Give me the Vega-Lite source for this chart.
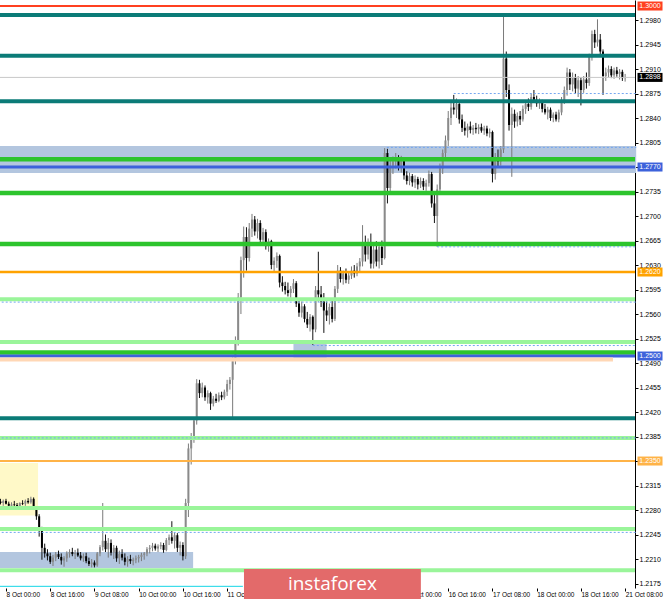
{
  "$schema": "https://vega.github.io/schema/vega-lite/v6.json",
  "width": 635,
  "height": 588,
  "autosize": {"type": "none"},
  "padding": {"left": 0, "top": 0, "right": 30, "bottom": 11},
  "background": "white",
  "config": {"view": {"stroke": null}, "scale": {"continuousPadding": 0}, "axis": {"labelOverlap": false}},
  "datasets": {
    "candles": [
      {"i":-2,"o":1.2292,"h":1.2296,"l":1.2288,"c":1.2290},
      {"i":-1,"o":1.2290,"h":1.2295,"l":1.2286,"c":1.2293},
      {"i":0,"o":1.2293,"h":1.2296,"l":1.2288,"c":1.2289},
      {"i":1,"o":1.2289,"h":1.2292,"l":1.2284,"c":1.2286},
      {"i":2,"o":1.2286,"h":1.2291,"l":1.2283,"c":1.2288},
      {"i":3,"o":1.2288,"h":1.2293,"l":1.2285,"c":1.2287},
      {"i":4,"o":1.2287,"h":1.2290,"l":1.2282,"c":1.2285},
      {"i":5,"o":1.2285,"h":1.2291,"l":1.2283,"c":1.2290},
      {"i":6,"o":1.2290,"h":1.2294,"l":1.2287,"c":1.2289},
      {"i":7,"o":1.2289,"h":1.2295,"l":1.2286,"c":1.2293},
      {"i":8,"o":1.2293,"h":1.2297,"l":1.2289,"c":1.2291},
      {"i":9,"o":1.2291,"h":1.2299,"l":1.2289,"c":1.2296},
      {"i":10,"o":1.2296,"h":1.2298,"l":1.2280,"c":1.2282},
      {"i":11,"o":1.2282,"h":1.2285,"l":1.2266,"c":1.2271},
      {"i":12,"o":1.2271,"h":1.2274,"l":1.2242,"c":1.2250},
      {"i":13,"o":1.2250,"h":1.2256,"l":1.2209,"c":1.2226},
      {"i":14,"o":1.2226,"h":1.2232,"l":1.2212,"c":1.2218},
      {"i":15,"o":1.2218,"h":1.2224,"l":1.2208,"c":1.2214},
      {"i":16,"o":1.2214,"h":1.2219,"l":1.2203,"c":1.2206},
      {"i":17,"o":1.2206,"h":1.2216,"l":1.2200,"c":1.2212},
      {"i":18,"o":1.2212,"h":1.2220,"l":1.2207,"c":1.2217},
      {"i":19,"o":1.2217,"h":1.2222,"l":1.2210,"c":1.2213},
      {"i":20,"o":1.2213,"h":1.2218,"l":1.2202,"c":1.2208},
      {"i":21,"o":1.2208,"h":1.2214,"l":1.2199,"c":1.2211},
      {"i":22,"o":1.2211,"h":1.2221,"l":1.2206,"c":1.2218},
      {"i":23,"o":1.2218,"h":1.2224,"l":1.2212,"c":1.2220},
      {"i":24,"o":1.2220,"h":1.2226,"l":1.2214,"c":1.2217},
      {"i":25,"o":1.2217,"h":1.2223,"l":1.2210,"c":1.2219},
      {"i":26,"o":1.2219,"h":1.2225,"l":1.2213,"c":1.2215},
      {"i":27,"o":1.2215,"h":1.2220,"l":1.2208,"c":1.2211},
      {"i":28,"o":1.2211,"h":1.2218,"l":1.2206,"c":1.2214},
      {"i":29,"o":1.2214,"h":1.2219,"l":1.2204,"c":1.2207},
      {"i":30,"o":1.2207,"h":1.2212,"l":1.2200,"c":1.2203},
      {"i":31,"o":1.2203,"h":1.2210,"l":1.2198,"c":1.2205},
      {"i":32,"o":1.2205,"h":1.2208,"l":1.2198,"c":1.2201},
      {"i":33,"o":1.2201,"h":1.2220,"l":1.2199,"c":1.2218},
      {"i":34,"o":1.2218,"h":1.2230,"l":1.2214,"c":1.2227},
      {"i":35,"o":1.2227,"h":1.2290,"l":1.2222,"c":1.2236},
      {"i":36,"o":1.2236,"h":1.2245,"l":1.2220,"c":1.2224},
      {"i":37,"o":1.2224,"h":1.2240,"l":1.2212,"c":1.2233},
      {"i":38,"o":1.2233,"h":1.2238,"l":1.2215,"c":1.2219},
      {"i":39,"o":1.2219,"h":1.2230,"l":1.2210,"c":1.2226},
      {"i":40,"o":1.2226,"h":1.2229,"l":1.2206,"c":1.2211},
      {"i":41,"o":1.2211,"h":1.2222,"l":1.2203,"c":1.2217},
      {"i":42,"o":1.2217,"h":1.2224,"l":1.2208,"c":1.2212},
      {"i":43,"o":1.2212,"h":1.2218,"l":1.2201,"c":1.2206},
      {"i":44,"o":1.2206,"h":1.2214,"l":1.2199,"c":1.2210},
      {"i":45,"o":1.2210,"h":1.2216,"l":1.2203,"c":1.2207},
      {"i":46,"o":1.2207,"h":1.2212,"l":1.2201,"c":1.2209},
      {"i":47,"o":1.2209,"h":1.2215,"l":1.2204,"c":1.2211},
      {"i":48,"o":1.2211,"h":1.2216,"l":1.2205,"c":1.2213},
      {"i":49,"o":1.2213,"h":1.2219,"l":1.2207,"c":1.2216},
      {"i":50,"o":1.2216,"h":1.2220,"l":1.2209,"c":1.2218},
      {"i":51,"o":1.2218,"h":1.2227,"l":1.2214,"c":1.2224},
      {"i":52,"o":1.2224,"h":1.2230,"l":1.2218,"c":1.2226},
      {"i":53,"o":1.2226,"h":1.2233,"l":1.2221,"c":1.2229},
      {"i":54,"o":1.2229,"h":1.2232,"l":1.2222,"c":1.2225},
      {"i":55,"o":1.2225,"h":1.2231,"l":1.2220,"c":1.2228},
      {"i":56,"o":1.2228,"h":1.2234,"l":1.2224,"c":1.2230},
      {"i":57,"o":1.2230,"h":1.2233,"l":1.2219,"c":1.2223},
      {"i":58,"o":1.2223,"h":1.2240,"l":1.2221,"c":1.2237},
      {"i":59,"o":1.2237,"h":1.2245,"l":1.2230,"c":1.2241},
      {"i":60,"o":1.2241,"h":1.2264,"l":1.2232,"c":1.2236},
      {"i":61,"o":1.2236,"h":1.2248,"l":1.2225,"c":1.2244},
      {"i":62,"o":1.2244,"h":1.2247,"l":1.2220,"c":1.2226},
      {"i":63,"o":1.2226,"h":1.2235,"l":1.2215,"c":1.2230},
      {"i":64,"o":1.2230,"h":1.2234,"l":1.2208,"c":1.2214},
      {"i":65,"o":1.2214,"h":1.2296,"l":1.2210,"c":1.2290},
      {"i":66,"o":1.2290,"h":1.2375,"l":1.2270,"c":1.2368},
      {"i":67,"o":1.2368,"h":1.2390,"l":1.2345,"c":1.2384},
      {"i":68,"o":1.2384,"h":1.2412,"l":1.2376,"c":1.2408},
      {"i":69,"o":1.2408,"h":1.2467,"l":1.2402,"c":1.2461},
      {"i":70,"o":1.2461,"h":1.2466,"l":1.2440,"c":1.2447},
      {"i":71,"o":1.2447,"h":1.2462,"l":1.2441,"c":1.2455},
      {"i":72,"o":1.2455,"h":1.2458,"l":1.2436,"c":1.2441},
      {"i":73,"o":1.2441,"h":1.2451,"l":1.2432,"c":1.2447},
      {"i":74,"o":1.2447,"h":1.2449,"l":1.2423,"c":1.2432},
      {"i":75,"o":1.2432,"h":1.2443,"l":1.2428,"c":1.2439},
      {"i":76,"o":1.2439,"h":1.2446,"l":1.2433,"c":1.2436},
      {"i":77,"o":1.2436,"h":1.2448,"l":1.2434,"c":1.2444},
      {"i":78,"o":1.2444,"h":1.2449,"l":1.2437,"c":1.2441},
      {"i":79,"o":1.2441,"h":1.2452,"l":1.2438,"c":1.2449},
      {"i":80,"o":1.2449,"h":1.2466,"l":1.2443,"c":1.2460},
      {"i":81,"o":1.2460,"h":1.2470,"l":1.2452,"c":1.2466},
      {"i":82,"o":1.2466,"h":1.2498,"l":1.2412,"c":1.2493},
      {"i":83,"o":1.2493,"h":1.2528,"l":1.2488,"c":1.2522},
      {"i":84,"o":1.2522,"h":1.2590,"l":1.2515,"c":1.2584},
      {"i":85,"o":1.2584,"h":1.2642,"l":1.2560,"c":1.2637},
      {"i":86,"o":1.2637,"h":1.2685,"l":1.2612,"c":1.2670},
      {"i":87,"o":1.2670,"h":1.2684,"l":1.2622,"c":1.2640},
      {"i":88,"o":1.2640,"h":1.2690,"l":1.2635,"c":1.2682},
      {"i":89,"o":1.2682,"h":1.2703,"l":1.2670,"c":1.2695},
      {"i":90,"o":1.2695,"h":1.2700,"l":1.2672,"c":1.2678},
      {"i":91,"o":1.2678,"h":1.2696,"l":1.2668,"c":1.2690},
      {"i":92,"o":1.2690,"h":1.2694,"l":1.2660,"c":1.2666},
      {"i":93,"o":1.2666,"h":1.2683,"l":1.2659,"c":1.2677},
      {"i":94,"o":1.2677,"h":1.2681,"l":1.2652,"c":1.2657},
      {"i":95,"o":1.2657,"h":1.2668,"l":1.2649,"c":1.2664},
      {"i":96,"o":1.2664,"h":1.2666,"l":1.2624,"c":1.2630},
      {"i":97,"o":1.2630,"h":1.2641,"l":1.2620,"c":1.2636},
      {"i":98,"o":1.2636,"h":1.2648,"l":1.2626,"c":1.2643},
      {"i":99,"o":1.2643,"h":1.2645,"l":1.2598,"c":1.2605},
      {"i":100,"o":1.2605,"h":1.2614,"l":1.2592,"c":1.2600},
      {"i":101,"o":1.2600,"h":1.2606,"l":1.2588,"c":1.2594},
      {"i":102,"o":1.2594,"h":1.2605,"l":1.2585,"c":1.2590},
      {"i":103,"o":1.2590,"h":1.2600,"l":1.2583,"c":1.2596},
      {"i":104,"o":1.2596,"h":1.2610,"l":1.2590,"c":1.2604},
      {"i":105,"o":1.2604,"h":1.2607,"l":1.2570,"c":1.2575},
      {"i":106,"o":1.2575,"h":1.2580,"l":1.2556,"c":1.2562},
      {"i":107,"o":1.2562,"h":1.2578,"l":1.2555,"c":1.2571},
      {"i":108,"o":1.2571,"h":1.2574,"l":1.2548,"c":1.2553},
      {"i":109,"o":1.2553,"h":1.2563,"l":1.2540,"c":1.2545},
      {"i":110,"o":1.2545,"h":1.2560,"l":1.2535,"c":1.2556},
      {"i":111,"o":1.2556,"h":1.2558,"l":1.2516,"c":1.2538},
      {"i":112,"o":1.2538,"h":1.2600,"l":1.2534,"c":1.2594},
      {"i":113,"o":1.2594,"h":1.2649,"l":1.2578,"c":1.2588},
      {"i":114,"o":1.2588,"h":1.2600,"l":1.2570,"c":1.2578},
      {"i":115,"o":1.2578,"h":1.2590,"l":1.2533,"c":1.2565},
      {"i":116,"o":1.2565,"h":1.2578,"l":1.2550,"c":1.2558},
      {"i":117,"o":1.2558,"h":1.2575,"l":1.2545,"c":1.2570},
      {"i":118,"o":1.2570,"h":1.2580,"l":1.2548,"c":1.2553},
      {"i":119,"o":1.2553,"h":1.2600,"l":1.2550,"c":1.2596},
      {"i":120,"o":1.2596,"h":1.2630,"l":1.2590,"c":1.2622},
      {"i":121,"o":1.2622,"h":1.2627,"l":1.2605,"c":1.2610},
      {"i":122,"o":1.2610,"h":1.2622,"l":1.2602,"c":1.2618},
      {"i":123,"o":1.2618,"h":1.2625,"l":1.2604,"c":1.2609},
      {"i":124,"o":1.2609,"h":1.2620,"l":1.2603,"c":1.2615},
      {"i":125,"o":1.2615,"h":1.2628,"l":1.2610,"c":1.2622},
      {"i":126,"o":1.2622,"h":1.2630,"l":1.2612,"c":1.2618},
      {"i":127,"o":1.2618,"h":1.2633,"l":1.2614,"c":1.2628},
      {"i":128,"o":1.2628,"h":1.2640,"l":1.2620,"c":1.2635},
      {"i":129,"o":1.2635,"h":1.2687,"l":1.2628,"c":1.2660},
      {"i":130,"o":1.2660,"h":1.2672,"l":1.2635,"c":1.2645},
      {"i":131,"o":1.2645,"h":1.2668,"l":1.2638,"c":1.2662},
      {"i":132,"o":1.2662,"h":1.2675,"l":1.2625,"c":1.2632},
      {"i":133,"o":1.2632,"h":1.2660,"l":1.2625,"c":1.2652},
      {"i":134,"o":1.2652,"h":1.2664,"l":1.2628,"c":1.2635},
      {"i":135,"o":1.2635,"h":1.2662,"l":1.2625,"c":1.2656},
      {"i":136,"o":1.2656,"h":1.2665,"l":1.2630,"c":1.2640},
      {"i":137,"o":1.2640,"h":1.2797,"l":1.2638,"c":1.2790},
      {"i":138,"o":1.2790,"h":1.2796,"l":1.2718,"c":1.2740},
      {"i":139,"o":1.2740,"h":1.2780,"l":1.2735,"c":1.2772},
      {"i":140,"o":1.2772,"h":1.2785,"l":1.2760,"c":1.2778},
      {"i":141,"o":1.2778,"h":1.2790,"l":1.2768,"c":1.2783},
      {"i":142,"o":1.2783,"h":1.2787,"l":1.2765,"c":1.2770},
      {"i":143,"o":1.2770,"h":1.2786,"l":1.2762,"c":1.2780},
      {"i":144,"o":1.2780,"h":1.2784,"l":1.2752,"c":1.2758},
      {"i":145,"o":1.2758,"h":1.2764,"l":1.2745,"c":1.2750},
      {"i":146,"o":1.2750,"h":1.2762,"l":1.2744,"c":1.2757},
      {"i":147,"o":1.2757,"h":1.2760,"l":1.2742,"c":1.2748},
      {"i":148,"o":1.2748,"h":1.2758,"l":1.2740,"c":1.2753},
      {"i":149,"o":1.2753,"h":1.2756,"l":1.2738,"c":1.2745},
      {"i":150,"o":1.2745,"h":1.2755,"l":1.2740,"c":1.2750},
      {"i":151,"o":1.2750,"h":1.2754,"l":1.2737,"c":1.2742},
      {"i":152,"o":1.2742,"h":1.2752,"l":1.2736,"c":1.2747},
      {"i":153,"o":1.2747,"h":1.2765,"l":1.2742,"c":1.2760},
      {"i":154,"o":1.2760,"h":1.2763,"l":1.2712,"c":1.2718},
      {"i":155,"o":1.2718,"h":1.2730,"l":1.2690,"c":1.2700},
      {"i":156,"o":1.2700,"h":1.2745,"l":1.2656,"c":1.2738},
      {"i":157,"o":1.2738,"h":1.2775,"l":1.2730,"c":1.2768},
      {"i":158,"o":1.2768,"h":1.2795,"l":1.2760,"c":1.2790},
      {"i":159,"o":1.2790,"h":1.2815,"l":1.2782,"c":1.2808},
      {"i":160,"o":1.2808,"h":1.2850,"l":1.2800,"c":1.2840},
      {"i":161,"o":1.2840,"h":1.2866,"l":1.2830,"c":1.2855},
      {"i":162,"o":1.2855,"h":1.2873,"l":1.2845,"c":1.2852},
      {"i":163,"o":1.2852,"h":1.2868,"l":1.2840,"c":1.2860},
      {"i":164,"o":1.2860,"h":1.2862,"l":1.2832,"c":1.2838},
      {"i":165,"o":1.2838,"h":1.2845,"l":1.2820,"c":1.2826},
      {"i":166,"o":1.2826,"h":1.2835,"l":1.2815,"c":1.2822},
      {"i":167,"o":1.2822,"h":1.2832,"l":1.2812,"c":1.2828},
      {"i":168,"o":1.2828,"h":1.2835,"l":1.2818,"c":1.2823},
      {"i":169,"o":1.2823,"h":1.2830,"l":1.2816,"c":1.2826},
      {"i":170,"o":1.2826,"h":1.2833,"l":1.2818,"c":1.2824},
      {"i":171,"o":1.2824,"h":1.2831,"l":1.2817,"c":1.2827},
      {"i":172,"o":1.2827,"h":1.2832,"l":1.2819,"c":1.2822},
      {"i":173,"o":1.2822,"h":1.2829,"l":1.2816,"c":1.2825},
      {"i":174,"o":1.2825,"h":1.2829,"l":1.2814,"c":1.2818},
      {"i":175,"o":1.2818,"h":1.2825,"l":1.2812,"c":1.2820},
      {"i":176,"o":1.2820,"h":1.2822,"l":1.2748,"c":1.2760},
      {"i":177,"o":1.2760,"h":1.2790,"l":1.2752,"c":1.2782},
      {"i":178,"o":1.2782,"h":1.2795,"l":1.2770,"c":1.2778},
      {"i":179,"o":1.2778,"h":1.2800,"l":1.2772,"c":1.2795},
      {"i":180,"o":1.2795,"h":1.2987,"l":1.2790,"c":1.2925},
      {"i":181,"o":1.2925,"h":1.2935,"l":1.2870,"c":1.2880},
      {"i":182,"o":1.2880,"h":1.2888,"l":1.2822,"c":1.2830},
      {"i":183,"o":1.2830,"h":1.2855,"l":1.2756,"c":1.2846},
      {"i":184,"o":1.2846,"h":1.2852,"l":1.2826,"c":1.2835},
      {"i":185,"o":1.2835,"h":1.2848,"l":1.2828,"c":1.2843},
      {"i":186,"o":1.2843,"h":1.2850,"l":1.2830,"c":1.2838},
      {"i":187,"o":1.2838,"h":1.2858,"l":1.2835,"c":1.2853},
      {"i":188,"o":1.2853,"h":1.2865,"l":1.2846,"c":1.2860},
      {"i":189,"o":1.2860,"h":1.2868,"l":1.2850,"c":1.2856},
      {"i":190,"o":1.2856,"h":1.2875,"l":1.2852,"c":1.2870},
      {"i":191,"o":1.2870,"h":1.2880,"l":1.2862,"c":1.2866},
      {"i":192,"o":1.2866,"h":1.2872,"l":1.2856,"c":1.2861},
      {"i":193,"o":1.2861,"h":1.2868,"l":1.2853,"c":1.2864},
      {"i":194,"o":1.2864,"h":1.2866,"l":1.2848,"c":1.2853},
      {"i":195,"o":1.2853,"h":1.2860,"l":1.2845,"c":1.2848},
      {"i":196,"o":1.2848,"h":1.2856,"l":1.2838,"c":1.2852},
      {"i":197,"o":1.2852,"h":1.2855,"l":1.2836,"c":1.2840},
      {"i":198,"o":1.2840,"h":1.2848,"l":1.2834,"c":1.2845},
      {"i":199,"o":1.2845,"h":1.2849,"l":1.2835,"c":1.2838},
      {"i":200,"o":1.2838,"h":1.2852,"l":1.2834,"c":1.2848},
      {"i":201,"o":1.2848,"h":1.2870,"l":1.2844,"c":1.2865},
      {"i":202,"o":1.2865,"h":1.2885,"l":1.2860,"c":1.2880},
      {"i":203,"o":1.2880,"h":1.2912,"l":1.2872,"c":1.2905},
      {"i":204,"o":1.2905,"h":1.2910,"l":1.2880,"c":1.2888},
      {"i":205,"o":1.2888,"h":1.2905,"l":1.2878,"c":1.2898},
      {"i":206,"o":1.2898,"h":1.2903,"l":1.2875,"c":1.2882},
      {"i":207,"o":1.2882,"h":1.2900,"l":1.2870,"c":1.2894},
      {"i":208,"o":1.2894,"h":1.2898,"l":1.2858,"c":1.2880},
      {"i":209,"o":1.2880,"h":1.2900,"l":1.2876,"c":1.2895},
      {"i":210,"o":1.2895,"h":1.2905,"l":1.2882,"c":1.2890},
      {"i":211,"o":1.2890,"h":1.2932,"l":1.2886,"c":1.2927},
      {"i":212,"o":1.2927,"h":1.2965,"l":1.2922,"c":1.2960},
      {"i":213,"o":1.2960,"h":1.2966,"l":1.2940,"c":1.2948},
      {"i":214,"o":1.2948,"h":1.2981,"l":1.2942,"c":1.2952},
      {"i":215,"o":1.2952,"h":1.2960,"l":1.2928,"c":1.2935},
      {"i":216,"o":1.2935,"h":1.2938,"l":1.2873,"c":1.2900},
      {"i":217,"o":1.2900,"h":1.2912,"l":1.2893,"c":1.2905},
      {"i":218,"o":1.2905,"h":1.2915,"l":1.2898,"c":1.2910},
      {"i":219,"o":1.2910,"h":1.2914,"l":1.2897,"c":1.2901},
      {"i":220,"o":1.2901,"h":1.2912,"l":1.2896,"c":1.2908},
      {"i":221,"o":1.2908,"h":1.2913,"l":1.2899,"c":1.2903},
      {"i":222,"o":1.2903,"h":1.2910,"l":1.2895,"c":1.2906},
      {"i":223,"o":1.2906,"h":1.2909,"l":1.2893,"c":1.2897},
      {"i":224,"o":1.2897,"h":1.2903,"l":1.2892,"c":1.2898}
    ],
    "zones": [
      {"x1":-3,"x2":11.6,"p1":1.2347,"p2":1.2272,"kind":"yellow"},
      {"x1":-3,"x2":67.7,"p1":1.2220,"p2":1.2197,"kind":"steel"},
      {"x1":104,"x2":116,"p1":1.2519,"p2":1.2497,"kind":"steel"},
      {"x1":-3,"x2":228,"p1":1.2800,"p2":1.27615,"kind":"steel"}
    ],
    "levels": [
      {"p":1.3000,"kind":"red"},
      {"p":1.2987,"kind":"teal"},
      {"p":1.2929,"kind":"teal"},
      {"p":1.2898,"kind":"bid"},
      {"p":1.2864,"kind":"teal"},
      {"p":1.2781,"kind":"green"},
      {"p":1.2770,"kind":"royal"},
      {"p":1.2733,"kind":"green"},
      {"p":1.2660,"kind":"green"},
      {"p":1.2620,"kind":"orange"},
      {"p":1.2581,"kind":"lime"},
      {"p":1.2520,"kind":"lime"},
      {"p":1.2505,"kind":"green"},
      {"p":1.2500,"kind":"royal"},
      {"p":1.2411,"kind":"teal"},
      {"p":1.2383,"kind":"lime"},
      {"p":1.2350,"kind":"orange2"},
      {"p":1.2283,"kind":"lime"},
      {"p":1.2253,"kind":"lime"},
      {"p":1.2194,"kind":"lime"}
    ],
    "segments": [
      {"p":1.2495,"kind":"peach","from":-3,"to":219.6},
      {"p":1.2171,"kind":"cyan","from":-3,"to":85.7}
    ],
    "dots": [
      {"p":1.2875,"from":162,"to":228},
      {"p":1.2798,"from":137.8,"to":228},
      {"p":1.2656,"from":156,"to":228},
      {"p":1.2577,"from":-3,"to":228},
      {"p":1.2515,"from":111,"to":228},
      {"p":1.2383,"from":-3,"to":228},
      {"p":1.2248,"from":-3,"to":228}
    ],
    "tags": [
      {"p":1.3000,"kind":"red"},
      {"p":1.2898,"kind":"black"},
      {"p":1.2770,"kind":"royal"},
      {"p":1.2620,"kind":"orange"},
      {"p":1.2500,"kind":"royal"},
      {"p":1.2350,"kind":"orange2"}
    ],
    "banner": [
      {"x1":86.1,"x2":150.1,"p1":1.21957,"p2":1.2150,"xm":118.1,"pm":1.2174,"label":"instaforex"}
    ]
  },
  "layer": [
    {
      "data": {"name": "zones"},
      "mark": {"type": "rect"},
      "encoding": {
        "x": {"field": "x1", "type": "quantitative", "scale": {"domain": [-2.17, 227.57], "nice": false, "zero": false, "padding": 0},
          "axis": {"orient": "bottom", "values": [0,16,32,48,64,80,144,160,176,192,208,224], "tickCount": 40,
            "labelExpr": "['8 Oct 00:00','8 Oct 16:00','9 Oct 08:00','10 Oct 00:00','10 Oct 16:00','11 Oct 08:00','14 Oct 00:00','14 Oct 16:00','15 Oct 08:00','16 Oct 00:00','16 Oct 16:00','17 Oct 08:00','18 Oct 00:00','18 Oct 16:00','21 Oct 08:00'][round(datum.value/16)]",
            "domain": false, "grid": false, "ticks": true, "tickSize": 3, "tickColor": "#000000", "labelAlign": "left", "labelPadding": 0,
            "labelFontSize": 6.5, "labelFont": "Liberation Sans", "labelColor": "#000000", "labelOverlap": false, "labelBound": false, "labelFlush": false, "title": null}},
        "x2": {"field": "x2"},
        "y": {"field": "p1", "type": "quantitative", "scale": {"domain": [1.21686, 1.30086], "nice": false, "zero": false, "padding": 0},
          "axis": {"orient": "right", "values": [1.2175,1.2210,1.2245,1.2280,1.2315,1.2350,1.2385,1.2420,1.2455,1.2490,1.2525,1.2560,1.2595,1.2630,1.2665,1.2700,1.2735,1.2770,1.2805,1.2840,1.2875,1.2910,1.2945,1.2980], "tickCount": 40,
            "format": ".4f", "domain": true, "domainColor": "#000000", "domainWidth": 1, "ticks": true, "tickSize": 3, "tickColor": "#000000",
            "labelPadding": 1, "labelFontSize": 7, "labelFont": "Liberation Sans", "labelColor": "#000000", "grid": false, "title": null, "labelOverlap": false, "labelBound": false, "labelFlush": false}},
        "y2": {"field": "p2"},
        "color": {"field": "kind", "type": "nominal", "legend": null,
          "scale": {"domain": ["red","teal","green","royal","orange","orange2","lime","bid","cyan","peach","yellow","steel","black"],
                    "range": ["#ff4020","#0b7b77","#2dc42d","#3d62db","#ffa200","#ffb347","#9af59a","#c8c8c8","#14d6e6","#ffd7b5","#fff9c8","#b3c6df","#000000"]}}
      }
    },
    {
      "data": {"name": "candles"},
      "mark": {"type": "rule", "strokeWidth": 1},
      "encoding": {
        "x": {"field": "i", "type": "quantitative"},
        "y": {"field": "l", "type": "quantitative"},
        "y2": {"field": "h"},
        "color": {"condition": {"test": "datum.c >= datum.o", "value": "#7a7a7a"}, "value": "#111111"}
      }
    },
    {
      "data": {"name": "candles"},
      "mark": {"type": "bar", "width": 2},
      "encoding": {
        "x": {"field": "i", "type": "quantitative"},
        "y": {"field": "o", "type": "quantitative"},
        "y2": {"field": "c"},
        "color": {"condition": {"test": "datum.c >= datum.o", "value": "#8a8a8a"}, "value": "#000000"}
      }
    },
    {
      "data": {"name": "levels"},
      "mark": {"type": "rule"},
      "encoding": {
        "y": {"field": "p", "type": "quantitative"},
        "color": {"field": "kind", "type": "nominal", "legend": null},
        "strokeWidth": {"field": "kind", "type": "ordinal", "legend": null,
          "scale": {"type": "ordinal", "domain": ["red","teal","green","royal","orange","orange2","lime","bid","cyan","peach"], "range": [2,4,4.5,3,2.5,2,4,1,3,2.5]}}
      }
    },
    {
      "data": {"name": "segments"},
      "mark": {"type": "rule"},
      "encoding": {
        "x": {"field": "from", "type": "quantitative"},
        "x2": {"field": "to"},
        "y": {"field": "p", "type": "quantitative"},
        "color": {"field": "kind", "type": "nominal", "legend": null},
        "strokeWidth": {"field": "kind", "type": "ordinal", "legend": null}
      }
    },
    {
      "data": {"name": "dots"},
      "mark": {"type": "rule", "color": "#74a6f0", "strokeWidth": 1, "strokeDash": [2, 2]},
      "encoding": {
        "x": {"field": "from", "type": "quantitative"},
        "x2": {"field": "to"},
        "y": {"field": "p", "type": "quantitative"}
      }
    },
    {
      "data": {"name": "tags"},
      "mark": {"type": "tick", "orient": "horizontal", "size": 25, "thickness": 9, "opacity": 1},
      "encoding": {
        "x": {"datum": 233},
        "y": {"field": "p", "type": "quantitative"},
        "color": {"field": "kind", "type": "nominal", "legend": null}
      }
    },
    {
      "data": {"name": "tags"},
      "mark": {"type": "text", "color": "#ffffff", "fontSize": 7, "font": "Liberation Sans", "align": "center", "baseline": "middle"},
      "encoding": {
        "x": {"datum": 233},
        "y": {"field": "p", "type": "quantitative"},
        "text": {"field": "p", "type": "quantitative", "format": ".4f"}
      }
    },
    {
      "data": {"name": "banner"},
      "mark": {"type": "rect", "color": "#e36a6a", "opacity": 1},
      "encoding": {
        "x": {"field": "x1", "type": "quantitative"},
        "x2": {"field": "x2"},
        "y": {"field": "p1", "type": "quantitative"},
        "y2": {"field": "p2"}
      }
    },
    {
      "data": {"name": "banner"},
      "mark": {"type": "text", "color": "#ffffff", "fontSize": 19, "font": "Open Sans", "align": "center", "baseline": "middle"},
      "encoding": {
        "x": {"field": "xm", "type": "quantitative"},
        "y": {"field": "pm", "type": "quantitative"},
        "text": {"field": "label"}
      }
    }
  ]
}
